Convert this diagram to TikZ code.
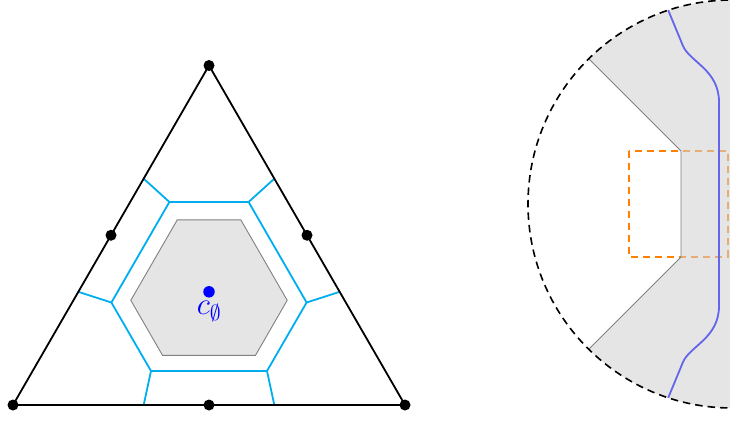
\RequirePackage{fix-cm}
\documentclass[tikz,border=0pt]{standalone}
\usepackage{amsmath}
\usetikzlibrary{calc,positioning}
\definecolor{DualCyan}{HTML}{00AEEF}
\definecolor{CurveBlue}{HTML}{6464EC}
\definecolor{BoxOrange}{HTML}{FF8000}
\begin{document}
\begin{tikzpicture}[
    x=1pt,y=-1pt,
    edge/.style={line width=1.8pt,draw=black,line join=round},
    vertex/.style={circle,fill=black,inner sep=0pt,minimum size=11pt},
    dual/.style={line width=1.8pt,draw=DualCyan,line join=miter},
    hull/.style={fill=gray!20,draw=gray,line width=0.9pt},
    centerdot/.style={circle,fill=blue,inner sep=0pt,minimum size=11.5pt},
    region/.style={fill=black!18,fill opacity=0.57},
    regionline/.style={draw=gray,line width=0.9pt},
    curve/.style={draw=CurveBlue,line width=1.8pt},
    zoombox/.style={draw=BoxOrange,line width=1.8pt,dash pattern=on 7pt off 5pt},
    ring/.style={draw=black,line width=1.6pt,dash pattern=on 7.5pt off 5pt}
  ]
  \useasboundingbox (0,0) rectangle (730,422);
  \clip (0,0) rectangle (730,422);
  \coordinate (A) at (13,405);
  \coordinate (B) at (405,405);
  \coordinate (T) at (209,65.5);
  \coordinate (G) at (209,291.8);
  \draw[hull] (177.3,219.8) -- (240.8,219.8) -- (287.2,300.3) -- (255.5,355.3)
    -- (162.5,355.3) -- (130.8,300.3) -- cycle;
  \coordinate (h1) at (169.4,202.0);
  \coordinate (h2) at (248.6,202.0);
  \coordinate (h3) at (306.6,302.5);
  \coordinate (h4) at (267.0,371.0);
  \coordinate (h5) at (151.0,371.0);
  \coordinate (h6) at (111.4,302.5);
  \draw[dual] (h1) -- (h2) -- (h3) -- (h4) -- (h5) -- (h6) -- cycle;
  \draw[dual] (h1) -- ($(A)!2/3!(T)$);
  \draw[dual] (h2) -- ($(T)!1/3!(B)$);
  \draw[dual] (h3) -- ($(T)!2/3!(B)$);
  \draw[dual] (h4) -- ($(A)!2/3!(B)$);
  \draw[dual] (h5) -- ($(A)!1/3!(B)$);
  \draw[dual] (h6) -- ($(A)!1/3!(T)$);
  \draw[edge] (A) -- (B) -- (T) -- cycle;
  \foreach \p in {A,B,T} \node[vertex] at (\p) {};
  \node[vertex] (mAB) at ($(A)!0.5!(B)$) {};
  \node[vertex] (mBT) at ($(B)!0.5!(T)$) {};
  \node[vertex] (mAT) at ($(A)!0.5!(T)$) {};
  \node[centerdot] (cdot) at (G) {};
  \node[text=blue,font=\fontsize{31}{36}\selectfont,below=3.5pt of cdot,inner sep=0pt] (clabel) {$c_{\emptyset}$};
  \coordinate (disk) at (732,204);
  \draw[zoombox] (629.3,151) rectangle (727.7,257);
  \begin{scope}
    \clip (disk) circle[radius=204];
    \fill[region] (560,30) -- (681,151) -- (681,257) -- (560,378) -- (560,440)
      -- (950,440) -- (950,-30) -- (560,-30) -- cycle;
    \draw[regionline] (560,30) -- (681,151) -- (681,257) -- (560,378);
    \draw[curve] (664,0) -- (683,46) .. controls (690,62) and (719,70) .. (719,102)
      -- (719,306) .. controls (719,338) and (690,346) .. (683,362) -- (664,408);
  \end{scope}
  \draw[ring] (disk) circle[radius=204];
\end{tikzpicture}
\end{document}
